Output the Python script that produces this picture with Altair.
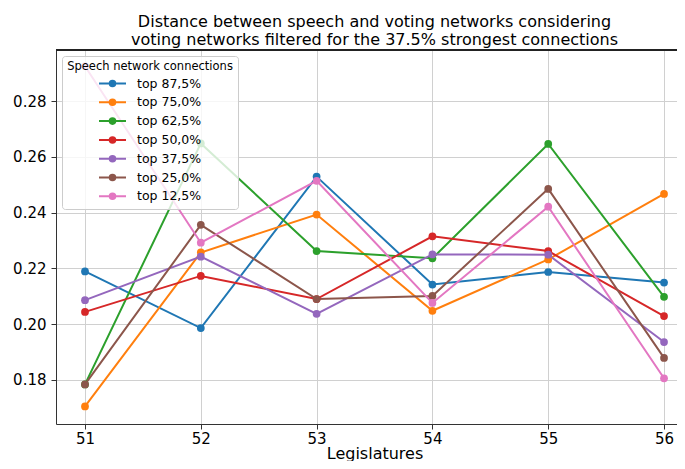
import altair as alt
import pandas as pd

legislatures = [51, 52, 53, 54, 55, 56]
series_names = ["top 87,5%", "top 75,0%", "top 62,5%", "top 50,0%",
                "top 37,5%", "top 25,0%", "top 12,5%"]
top_875 = [0.2189, 0.1986, 0.2529, 0.2142, 0.2187, 0.2149]
top_750 = [0.1705, 0.2257, 0.2393, 0.2048, 0.2232, 0.2467]
top_625 = [0.1784, 0.2648, 0.2262, 0.2236, 0.2646, 0.2098]
top_500 = [0.2044, 0.2173, 0.2090, 0.2315, 0.2262, 0.2029]
top_375 = [0.2086, 0.2242, 0.2037, 0.2250, 0.2249, 0.1936]
top_250 = [0.1784, 0.2356, 0.2090, 0.2101, 0.2485, 0.1879]
top_125 = [0.2925, 0.2292, 0.2514, 0.2076, 0.2421, 0.1806]
y_ticks = [0.18, 0.20, 0.22, 0.24, 0.26, 0.28]
colors = ["#1f77b4", "#ff7f0e", "#2ca02c", "#d62728", "#9467bd", "#8c564b", "#e377c2"]

all_series = [top_875, top_750, top_625, top_500, top_375, top_250, top_125]
rows = []
for i, (name, vals) in enumerate(zip(series_names, all_series)):
    for x, v in zip(legislatures, vals):
        rows.append({"legislature": x, "distance": v, "series": name, "idx": i})
df = pd.DataFrame(rows)

FONT = "DejaVu Sans"
sym_path = "M-1.8,0L1.8,0M0.37,0A0.37,0.37,0,1,1,-0.37,0A0.37,0.37,0,1,1,0.37,0Z"

x_enc = alt.X(
    "legislature:Q",
    scale=alt.Scale(domain=[50.7496, 56.112], nice=False, zero=False),
    axis=alt.Axis(values=legislatures, format="d", title="Legislatures",
                  titleX=318.5, titleY=34, titleBaseline="alphabetic",
                  labelPadding=2),
)
y_enc = alt.Y(
    "distance:Q",
    scale=alt.Scale(domain=[0.1642, 0.2983], nice=False, zero=False),
    axis=alt.Axis(values=y_ticks, format=".2f", title=None, labelPadding=5),
)
color_enc = alt.Color(
    "series:N",
    scale=alt.Scale(domain=series_names, range=colors),
    legend=alt.Legend(
        title="Speech network connections",
        orient="none", legendX=6, legendY=6,
        titleFont=FONT, titleFontSize=11.5, titleFontWeight="normal",
        titleColor="black", titleAnchor="middle", titlePadding=2.5,
        labelFont=FONT, labelFontSize=12.5, labelColor="black",
        symbolType=sym_path, symbolSize=225, symbolStrokeWidth=2,
        symbolOffset=5, labelOffset=16, rowPadding=2.8, padding=5,
        fillColor="rgba(255,255,255,0.8)", strokeColor="#cccccc",
        cornerRadius=3, symbolOpacity=1,
    ),
)

base = alt.Chart(df)
lines = base.mark_line(strokeWidth=2).encode(
    x=x_enc, y=y_enc, color=color_enc, order="idx:Q")
points = base.mark_circle(size=60, opacity=1).encode(
    x=x_enc, y=y_enc, color=color_enc)
top_spine = alt.Chart(df).mark_rule(color="#222222", strokeWidth=1).encode(
    y=alt.value(0))

chart = alt.layer(lines, points, top_spine).properties(
    width=621, height=374,
    title=alt.TitleParams(
        text=["Distance between speech and voting networks considering",
              "voting networks filtered for the 37.5% strongest connections"],
        font=FONT, fontSize=16, fontWeight="normal", color="black",
        anchor="middle", baseline="alphabetic", offset=7, dx=8, dy=18.5,
        lineHeight=18.5),
    autosize=alt.AutoSizeParams(type="none"),
    padding={"left": 48, "top": 42, "right": 0, "bottom": 37},
).configure_view(stroke=None).configure_axis(
    labelFont=FONT, labelFontSize=15, labelColor="black",
    titleFont=FONT, titleFontSize=16, titleFontWeight="normal", titleColor="black",
    grid=True, gridColor="#d0d0d0", gridWidth=1,
    domainColor="#333333", domainWidth=1,
    tickColor="#333333", tickSize=5, tickWidth=1,
)

chart.save("out.html", embed_options={"renderer": "svg", "actions": False})
